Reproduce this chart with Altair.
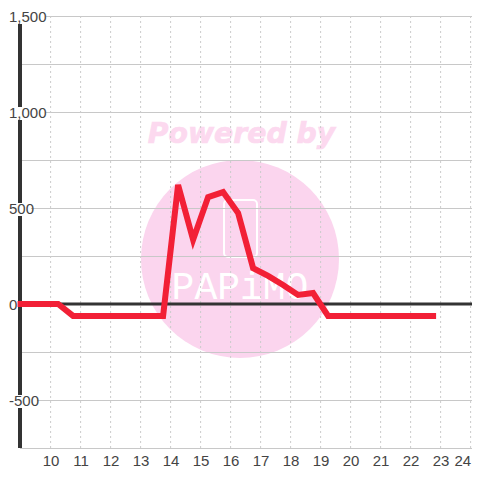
import altair as alt
import pandas as pd

hours = [9, 10.25, 10.75, 13.75, 14.25, 14.75, 15.25, 15.75, 16.25, 16.75, 17.25, 17.75, 18.25, 18.75, 19.25, 22.75]
values = [0, 0, -62, -62, 620, 335, 557, 583, 474, 187, 146, 99, 47, 57, -62, -62]
y_ticks = [-750, -500, -250, 0, 250, 500, 750, 1000, 1250, 1500]
x_ticks = list(range(10, 25))
label_values = [-500, 0, 500, 1000, 1500]
label_ends = [17, -3, 11, 26, 26]

X_DOM = [8.98, 8.98 + 452 / 30]
Y_DOM = [-750, 1500]
x_scale = alt.Scale(domain=X_DOM, nice=False, zero=False, padding=0)
y_scale = alt.Scale(domain=Y_DOM, nice=False, zero=False, padding=0)

line_df = pd.DataFrame({"hour": hours, "value": values})
one = pd.DataFrame({"a": [0]})

x_axis = alt.Axis(values=x_ticks, title=None, grid=False, domain=False, ticks=False, labelFontSize=15,
                  labelColor="#444444", labelFont="Liberation Sans", labelPadding=5, labelFlush=4,
                  labelOverlap=False, format="d", zindex=1)
y_axis = alt.Axis(values=label_values, title=None, grid=False, domain=False, ticks=False, labelFontSize=15,
                  labelColor="#444444", labelFont="Liberation Sans", labelAlign="left", labelPadding=11.5,
                  labelOverlap=False, zindex=1,
                  labelExpr="datum.value < 0 ? '-' + format(-datum.value, ',d') : format(datum.value, ',d')")

line = alt.Chart(line_df).mark_line(color="#f22036", strokeWidth=6, strokeCap="square", strokeJoin="miter").encode(
    x=alt.X("hour:Q", scale=x_scale, axis=x_axis),
    y=alt.Y("value:Q", scale=y_scale, axis=y_axis),
)

wm_circle = alt.Chart(one).mark_circle(color="#fbd5ee", opacity=1, size=39204).encode(
    x=alt.value(220), y=alt.value(243))
wm_text = alt.Chart(pd.DataFrame({"t": ["Powered by"]})).mark_text(
    font="DejaVu Sans", fontSize=28.3, fontWeight="bold", fontStyle="italic", color="#fcd9ef",
    stroke="#fcd9ef", strokeWidth=0.7, align="center", baseline="middle"
).encode(x=alt.value(221.5), y=alt.value(119), text="t:N")
wm_logo = alt.Chart(pd.DataFrame({"t": ["PAPiMO"]})).mark_text(
    font="Liberation Mono", fontSize=38, color="#ffffff", align="center", baseline="middle"
).encode(x=alt.value(220), y=alt.value(272), text="t:N")
wm_box = alt.Chart(one).mark_rect(
    fill=None, stroke="#ffffff", strokeWidth=2, cornerRadius=4
).encode(x=alt.value(204), x2=alt.value(237), y=alt.value(184), y2=alt.value(241))

grid_h = alt.Chart(pd.DataFrame({"v": y_ticks})).mark_rule(color="#c8c8c8", strokeWidth=1, yOffset=0.5).encode(
    y=alt.Y("v:Q", scale=y_scale, axis=y_axis))
grid_v = alt.Chart(pd.DataFrame({"h": x_ticks})).mark_rule(color="#cccccc", strokeWidth=1, strokeDash=[2, 3]).encode(
    x=alt.X("h:Q", scale=x_scale, axis=x_axis))

left = alt.Chart(one).mark_rule(color="#333333", strokeWidth=4).encode(
    x=alt.value(0), y=alt.value(0), y2=alt.value(432))
zero = alt.Chart(pd.DataFrame({"v": [0]})).mark_rule(color="#333333", strokeWidth=3).encode(
    y=alt.Y("v:Q", scale=y_scale, axis=y_axis))

label_bg = [
    alt.Chart(pd.DataFrame({"v": [v]})).mark_rect(color="white", height=13, yOffset=1.5).encode(
        y=alt.Y("v:Q", scale=y_scale, axis=y_axis), x=alt.value(-20), x2=alt.value(e))
    for v, e in zip(label_values, label_ends)
]

chart = alt.layer(wm_circle, wm_text, wm_logo, wm_box, grid_h, grid_v, left, zero, *label_bg, line).properties(
    width=452, height=432, padding={"left": 12, "top": 8, "right": 0, "bottom": 24},
    autosize=alt.AutoSizeParams(type="none"),
    background="white",
).configure_view(stroke=None)

chart.save("out.html", embed_options={"renderer": "svg", "actions": False})
